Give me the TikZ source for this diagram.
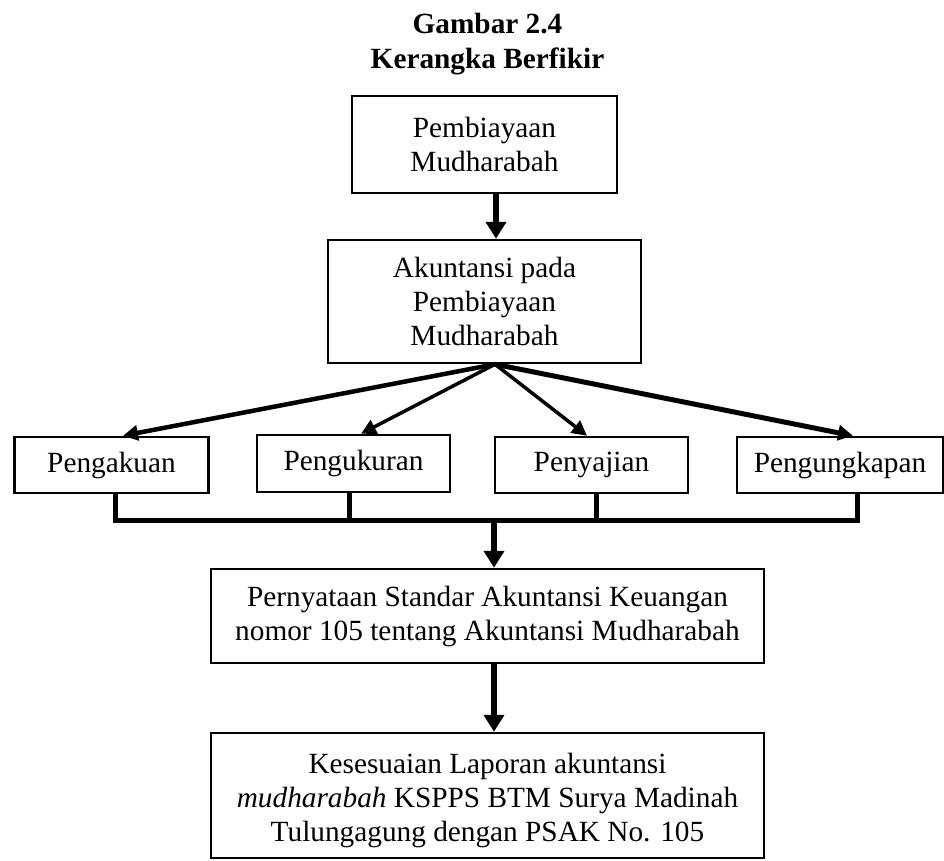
\documentclass[tikz,border=0pt]{standalone}
\usepackage{fontspec}
\setmainfont{Liberation Serif}
\usetikzlibrary{arrows.meta}
\begin{document}
\begin{tikzpicture}[x=1pt,y=-1pt,
  every node/.style={inner sep=0pt,align=center,font=\fontsize{29.3}{34}\selectfont},
  box/.style={draw,line width=2.5pt},
  varrow/.style={line width=6pt,-{Triangle[length=17pt,width=20pt]}},
  darrow/.style={line width=4pt,-{Triangle[length=15pt,width=15pt]}},
  busline/.style={line width=5pt,line join=miter,line cap=rect}]
\useasboundingbox (0,0) rectangle (944,860);
\node[font=\bfseries\fontsize{29.3}{35}\selectfont] (title) at (487.5,44.5) {Gambar 2.4\\Kerangka Berfikir};
\node[box,minimum width=265,minimum height=97] (p1) at (484.5,144.5) {Pembiayaan\\Mudharabah};
\node[box,minimum width=313,minimum height=123] (p2) at (484.5,301.5) {Akuntansi pada\\Pembiayaan\\Mudharabah};
\node[box,minimum width=194,minimum height=56] (a) at (111.5,465) {Pengakuan};
\node[box,minimum width=193,minimum height=57] (b) at (353.5,463.5) {Pengukuran};
\node[box,minimum width=193,minimum height=56] (c) at (591.5,465) {Penyajian};
\node[box,minimum width=206,minimum height=56] (d) at (840,465) {Pengungkapan};
\node[box,minimum width=553,minimum height=94] (e) at (487.5,616) {Pernyataan Standar Akuntansi Keuangan\\nomor 105 tentang Akuntansi Mudharabah};
\node[box,minimum width=553,minimum height=125] (f) at (487.5,795.5) {};
\node (ft) at (487.5,800) {Kesesuaian Laporan akuntansi\\\textit{mudharabah} KSPPS BTM Surya Madinah\\Tulungagung dengan PSAK No. 105};
% arrows
\draw[varrow] ([xshift=11.5pt]p1.south) -- ([xshift=11.5pt]p2.north);
\coordinate (hub) at ([xshift=10.5pt]p2.south);
\draw[darrow,line width=4.5pt] (hub) -- ([xshift=11.5pt]a.north);
\draw[darrow,line width=3.5pt] (hub) -- ([xshift=7.5pt]b.north);
\draw[darrow,line width=3.5pt] (hub) -- ([xshift=-4.5pt]c.north);
\draw[darrow,line width=5pt] (hub) -- ([xshift=13pt]d.north);
% bus
\coordinate (busA) at (115,520);
\coordinate (busD) at (857,520);
\coordinate (busM) at (494,520);
\draw[busline] ([xshift=3.5pt]a.south) -- (busA) -- (busD) -- ([xshift=17pt]d.south);
\draw[busline] ([xshift=-4.5pt]b.south) -- ([xshift=-4.5pt]b.south |- busA);
\draw[busline] ([xshift=4.5pt]c.south) -- ([xshift=4.5pt]c.south |- busA);
\draw[varrow] (busM) -- (busM |- e.north);
\draw[varrow] ([xshift=6.5pt]e.south) -- ([xshift=6.5pt]e.south |- f.north);
\end{tikzpicture}
\end{document}
